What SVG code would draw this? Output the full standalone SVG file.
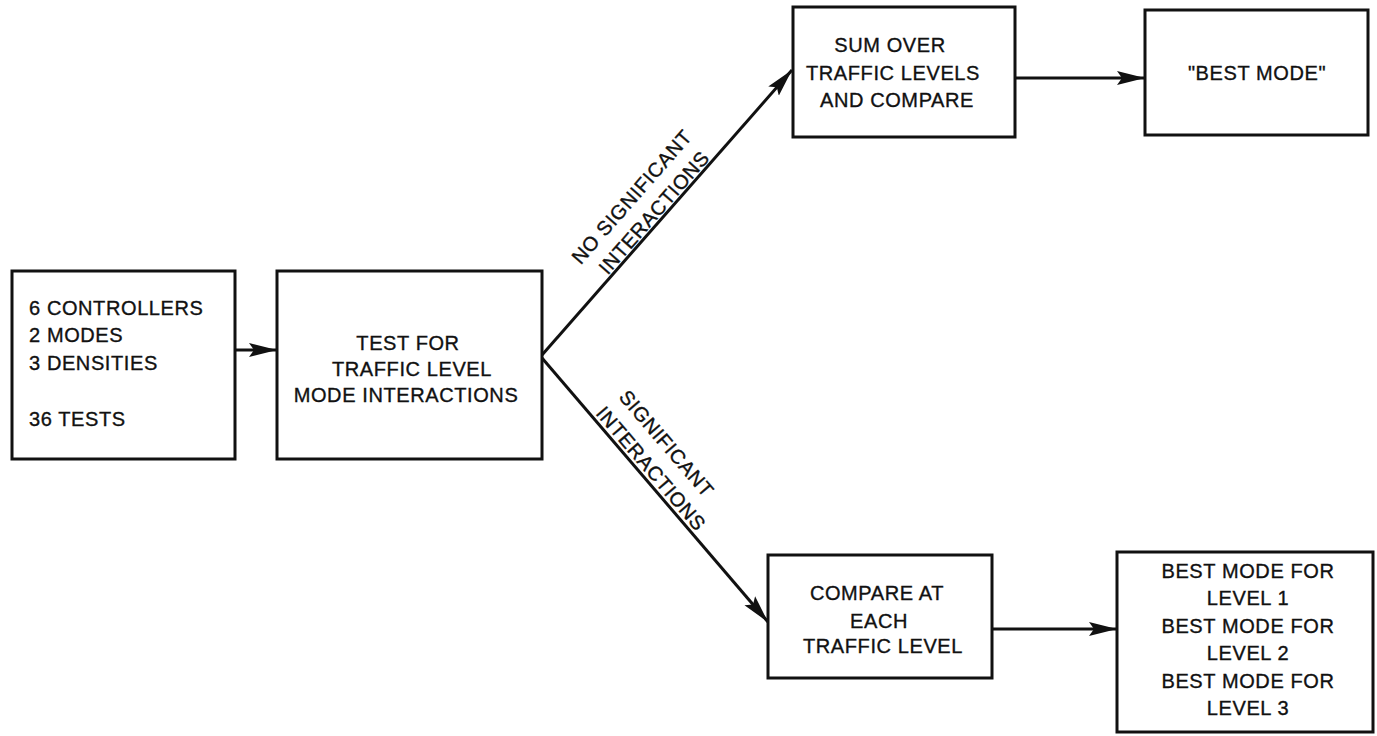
<svg xmlns="http://www.w3.org/2000/svg" width="1377" height="736" viewBox="0 0 1377 736">
  <style>
    .box { fill: #ffffff; stroke: #111111; stroke-width: 3; }
    .lbl { font-family: "Liberation Sans", Arial, sans-serif; font-size: 20px; fill: #111111; stroke: #111111; stroke-width: 0.35; letter-spacing: 0.6px; }
    .mid { text-anchor: middle; }
    .edge { fill: none; stroke: #111111; stroke-width: 3; marker-end: url(#arrow); }
  </style>
  <defs>
    <marker id="arrow" markerUnits="userSpaceOnUse" markerWidth="32" markerHeight="18" refX="28" refY="9" orient="auto">
      <path d="M0,2 L28,9 L0,16 L5,9 Z" fill="#111111"/>
    </marker>
  </defs>
  <rect width="1377" height="736" fill="#ffffff"/>

  <!-- connectors -->
  <g id="connectors">
    <line class="edge" x1="235" y1="350" x2="277" y2="350"/>
    <line class="edge" x1="542" y1="355" x2="792" y2="70"/>
    <line class="edge" x1="542" y1="358" x2="768" y2="622"/>
    <line class="edge" x1="1015" y1="78" x2="1145" y2="78"/>
    <line class="edge" x1="992" y1="629" x2="1117" y2="629"/>
    <g transform="translate(542,355) rotate(-48.7)">
      <text class="lbl mid" x="178" y="-30">NO SIGNIFICANT</text>
      <text class="lbl mid" x="181" y="-3">INTERACTIONS</text>
    </g>
    <g transform="translate(542,358) rotate(49.4)">
      <text class="lbl mid" x="146" y="-32">SIGNIFICANT</text>
      <text class="lbl mid" x="155" y="-4">INTERACTIONS</text>
    </g>
  </g>

  <!-- inputs -->
  <g id="inputs">
    <rect class="box" x="12" y="271" width="223" height="188"/>
    <text class="lbl" x="29" y="315">6 CONTROLLERS</text>
    <text class="lbl" x="29" y="342">2 MODES</text>
    <text class="lbl" x="29" y="370">3 DENSITIES</text>
    <text class="lbl" x="29" y="426">36 TESTS</text>
  </g>

  <g id="interaction-test">
    <rect class="box" x="277" y="271" width="265" height="188"/>
    <text class="lbl mid" x="408" y="350">TEST FOR</text>
    <text class="lbl mid" x="412" y="376">TRAFFIC LEVEL</text>
    <text class="lbl mid" x="406" y="402">MODE INTERACTIONS</text>
  </g>

  <g id="sum-compare">
    <rect class="box" x="793" y="7" width="222" height="130"/>
    <text class="lbl mid" x="890" y="52">SUM OVER</text>
    <text class="lbl mid" x="893" y="80">TRAFFIC LEVELS</text>
    <text class="lbl mid" x="897" y="107">AND COMPARE</text>
  </g>

  <g id="best-mode">
    <rect class="box" x="1145" y="10" width="223" height="125"/>
    <text class="lbl mid" x="1257" y="80">"BEST MODE"</text>
  </g>

  <g id="compare-each">
    <rect class="box" x="768" y="555" width="224" height="123"/>
    <text class="lbl mid" x="877" y="600">COMPARE AT</text>
    <text class="lbl mid" x="879" y="628">EACH</text>
    <text class="lbl mid" x="883" y="653">TRAFFIC LEVEL</text>
  </g>

  <g id="best-per-level">
    <rect class="box" x="1117" y="552" width="256" height="180"/>
    <text class="lbl mid" x="1248" y="578">BEST MODE FOR</text>
    <text class="lbl mid" x="1248" y="605">LEVEL 1</text>
    <text class="lbl mid" x="1248" y="633">BEST MODE FOR</text>
    <text class="lbl mid" x="1248" y="660">LEVEL 2</text>
    <text class="lbl mid" x="1248" y="688">BEST MODE FOR</text>
    <text class="lbl mid" x="1248" y="715">LEVEL 3</text>
  </g>
</svg>
